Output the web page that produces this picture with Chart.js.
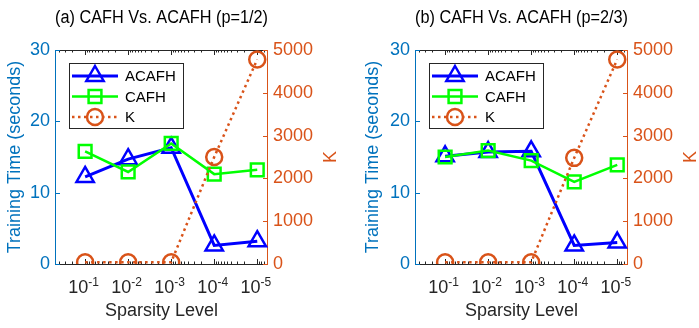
<!DOCTYPE html>
<html>
<head>
<meta charset="utf-8">
<script src="https://cdn.jsdelivr.net/npm/chart.js@4"></script>
<style>
  body { margin: 0; background: #fff; width: 699px; height: 328px; overflow: hidden; position: relative; }
  canvas { position: absolute; top: 0; }
</style>
</head>
<body>
<canvas id="c1" width="349" height="328" style="left:0"></canvas>
<canvas id="c2" width="349" height="328" style="left:350px"></canvas>
<script>
// sparsity level 10^-e, e = 1..5
const exponents = [1, 2, 3, 4, 5];
const tickExp = ['-1', '-2', '-3', '-4', '-5'];

// (a) p = 1/2
const acafhHalf = [12.2, 14.7, 16.3, 2.6, 3.2];
const cafhHalf = [15.8, 12.9, 16.9, 12.6, 13.2];
const kHalf = [40, 40, 40, 2500, 4780];

// (b) p = 2/3
const acafhTwoThirds = [15.1, 15.7, 15.8, 2.6, 3.0];
const cafhTwoThirds = [15.0, 15.9, 14.5, 11.5, 13.9];
const kTwoThirds = [40, 40, 40, 2480, 4780];

const FONT = "'Liberation Sans', Arial, Helvetica, sans-serif";
const BLUE_AX = '#0072BD';
const ORANGE = '#D95319';

function pts(vals) {
  return exponents.map((e, i) => ({ x: e, y: vals[i] }));
}

function marker(ctx, style, x, y) {
  ctx.beginPath();
  if (style === 'triangle') {
    const r = 10;
    ctx.moveTo(x, y - r);
    ctx.lineTo(x + r * 0.866, y + r / 2);
    ctx.lineTo(x - r * 0.866, y + r / 2);
    ctx.closePath();
  } else if (style === 'rect') {
    const s = 6.4;
    ctx.rect(x - s, y - s, 2 * s, 2 * s);
  } else {
    ctx.arc(x, y, 8, 0, Math.PI * 2);
  }
  ctx.stroke();
}

// MATLAB-like box, inward ticks, superscript x labels, legend and right label
const matlabLook = {
  id: 'matlabLook',
  beforeDatasetsDraw(chart) {
    const { ctx, chartArea: a, scales } = chart;
    const x = scales.x, y = scales.y, y1 = scales.y1;
    ctx.save();
    ctx.lineWidth = 1;
    // x ticks (top and bottom)
    ctx.strokeStyle = '#262626';
    ctx.beginPath();
    exponents.forEach(e => {
      const px = Math.round(x.getPixelForValue(e)) + 0.5;
      ctx.moveTo(px, a.bottom); ctx.lineTo(px, a.bottom - 5);
      ctx.moveTo(px, a.top); ctx.lineTo(px, a.top + 5);
    });
    for (let e = 0; e <= 5; e++) {
      for (let k = 2; k <= 9; k++) {
        const v = e + 1 - Math.log10(k);
        if (v < x.min || v > x.max) continue;
        const px = Math.round(x.getPixelForValue(v)) + 0.5;
        ctx.moveTo(px, a.bottom); ctx.lineTo(px, a.bottom - 2.5);
        ctx.moveTo(px, a.top); ctx.lineTo(px, a.top + 2.5);
      }
    }
    ctx.stroke();
    // top and bottom lines
    ctx.beginPath();
    ctx.moveTo(a.left, a.top + 0.5); ctx.lineTo(a.right, a.top + 0.5);
    ctx.moveTo(a.left, a.bottom + 0.5); ctx.lineTo(a.right, a.bottom + 0.5);
    ctx.stroke();
    // left axis
    ctx.strokeStyle = BLUE_AX;
    ctx.beginPath();
    ctx.moveTo(a.left + 0.5, a.top); ctx.lineTo(a.left + 0.5, a.bottom);
    y.ticks.forEach(t => {
      const py = Math.round(y.getPixelForValue(t.value)) + 0.5;
      ctx.moveTo(a.left, py); ctx.lineTo(a.left + 5, py);
    });
    ctx.stroke();
    // right axis
    ctx.strokeStyle = ORANGE;
    ctx.beginPath();
    ctx.moveTo(a.right - 0.5, a.top); ctx.lineTo(a.right - 0.5, a.bottom);
    y1.ticks.forEach(t => {
      const py = Math.round(y1.getPixelForValue(t.value)) + 0.5;
      ctx.moveTo(a.right, py); ctx.lineTo(a.right - 5, py);
    });
    ctx.stroke();
    ctx.restore();
  },
  afterDraw(chart) {
    const { ctx, chartArea: a, scales } = chart;
    const x = scales.x;
    ctx.save();
    // x tick labels 10^-n
    ctx.fillStyle = '#262626';
    ctx.textBaseline = 'alphabetic';
    ctx.textAlign = 'left';
    exponents.forEach((e, i) => {
      ctx.font = '18px ' + FONT;
      const wb = ctx.measureText('10').width;
      ctx.font = '12px ' + FONT;
      const we = ctx.measureText(tickExp[i]).width;
      const px = x.getPixelForValue(e);
      const sx = px - (wb + we) / 2 - 1.5;
      ctx.font = '18px ' + FONT;
      ctx.fillText('10', sx, 293);
      ctx.font = '12px ' + FONT;
      ctx.fillText(tickExp[i], sx + wb, 286);
    });
    // right axis title
    ctx.save();
    ctx.translate(a.right + 63, (a.top + a.bottom) / 2);
    ctx.rotate(-Math.PI / 2);
    ctx.font = '18px ' + FONT;
    ctx.fillStyle = ORANGE;
    ctx.textAlign = 'center';
    ctx.textBaseline = 'middle';
    ctx.fillText('K', 0, 0);
    ctx.restore();
    // legend
    const lx = a.left + 14, ly = a.top + 13;
    ctx.fillStyle = '#fff';
    ctx.fillRect(lx, ly, 114, 65);
    ctx.strokeStyle = '#262626';
    ctx.lineWidth = 1;
    ctx.strokeRect(lx + 0.5, ly + 0.5, 114, 65);
    chart.data.datasets.slice().reverse().forEach((ds, i) => {
      const ry = ly + 13 + i * 20.5;
      ctx.strokeStyle = ds.borderColor;
      ctx.lineWidth = ds.borderWidth;
      ctx.setLineDash(ds.borderDash || []);
      ctx.beginPath();
      ctx.moveTo(lx + 3, ry); ctx.lineTo(lx + 49, ry);
      ctx.stroke();
      ctx.setLineDash([]);
      ctx.lineWidth = 2.5;
      marker(ctx, ds.pointStyle, lx + 26, ry);
      ctx.fillStyle = '#000';
      ctx.font = '15px ' + FONT;
      ctx.textAlign = 'left';
      ctx.textBaseline = 'middle';
      ctx.fillText(ds.label, lx + 56, ry + 1);
    });
    ctx.restore();
  }
};

function makeChart(id, title, acafh, cafh, k, leftW, rightW, leftPad) {
  return new Chart(document.getElementById(id), {
    type: 'line',
    data: {
      datasets: [
        {
          label: 'K', data: pts(k), yAxisID: 'y1',
          borderColor: ORANGE, borderWidth: 2.5, borderDash: [2.5, 3.5],
          pointStyle: 'circle', pointRadius: 8, pointBorderWidth: 2.5,
          pointBorderColor: ORANGE, pointBackgroundColor: 'rgba(0,0,0,0)'
        },
        {
          label: 'CAFH', data: pts(cafh), yAxisID: 'y',
          borderColor: '#00FF00', borderWidth: 2.5,
          pointStyle: 'rect', pointRadius: 9, pointBorderWidth: 2.5,
          pointBorderColor: '#00FF00', pointBackgroundColor: 'rgba(0,0,0,0)'
        },
        {
          label: 'ACAFH', data: pts(acafh), yAxisID: 'y',
          borderColor: '#0000FF', borderWidth: 3,
          pointStyle: 'triangle', pointRadius: 10, pointBorderWidth: 2.5,
          pointBorderColor: '#0000FF', pointBackgroundColor: 'rgba(0,0,0,0)'
        }
      ]
    },
    options: {
      responsive: false,
      animation: false,
      devicePixelRatio: 1,
      layout: { padding: 0 },
      plugins: {
        legend: { display: false },
        tooltip: { enabled: false },
        title: {
          display: true, text: title, fullSize: false, color: '#000',
          font: { family: FONT, size: 18, weight: 'normal' },
          padding: { top: 7, bottom: 21.4 }
        }
      },
      scales: {
        x: {
          type: 'linear', min: 0.3, max: 5.25,
          grid: { display: false }, border: { display: false },
          ticks: { display: false },
          title: {
            display: true, text: 'Sparsity Level', color: '#262626',
            font: { family: FONT, size: 18 }, padding: 6
          },
          afterFit: s => { s.height = 64; }
        },
        y: {
          position: 'left', min: 0, max: 30,
          grid: { display: false, drawTicks: false }, border: { display: false },
          ticks: { stepSize: 10, color: BLUE_AX, padding: 5, font: { family: FONT, size: 18 } },
          title: {
            display: true, text: 'Training Time (seconds)', color: BLUE_AX,
            font: { family: FONT, size: 18 }, padding: leftPad
          },
          afterFit: s => { s.width = leftW; }
        },
        y1: {
          position: 'right', min: 0, max: 5000,
          grid: { display: false, drawTicks: false }, border: { display: false },
          ticks: {
            stepSize: 1000, color: ORANGE, padding: 5, font: { family: FONT, size: 18 },
            callback: v => String(v)
          },
          afterFit: s => { s.width = rightW; }
        }
      }
    },
    plugins: [matlabLook]
  });
}

makeChart('c1', '(a) CAFH Vs. ACAFH (p=1/2)', acafhHalf, cafhHalf, kHalf, 55, 81, 4);
makeChart('c2', '(b) CAFH Vs. ACAFH (p=2/3)', acafhTwoThirds, cafhTwoThirds, kTwoThirds, 65, 71, 12);
</script>
</body>
</html>
